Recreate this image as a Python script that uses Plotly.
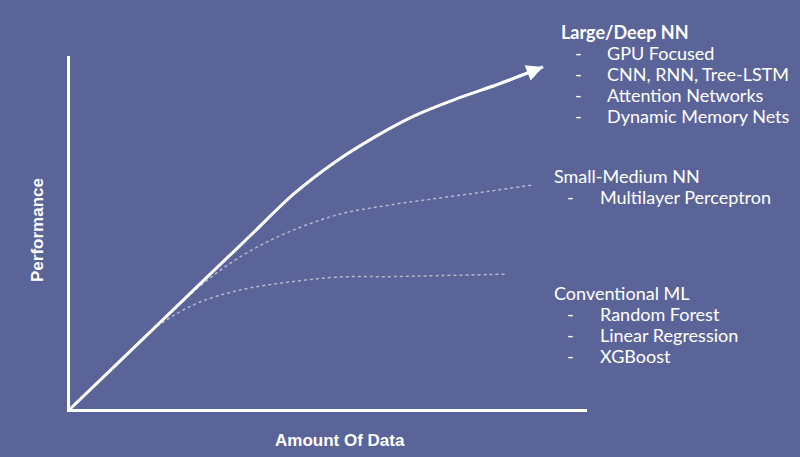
from plotly import graph_objects as go

# Curva principal (Large/Deep NN) - amount of data vs performance
deep_x = [0, 8.7, 17.4, 26.1, 34.8, 43.5, 51.3, 59.0, 66.7, 74.5, 83.2]
deep_y = [0, 12.2, 24.5, 36.8, 49.0, 61.2, 70.0, 77.1, 83.1, 87.7, 92.2]
deep_tip = (91.5, 96.9)

# Small-Medium NN (pontilhado)
small_x = [0, 8.7, 17.4, 25.1, 32.9, 41.6, 52.2, 61.9, 71.6, 80.7, 89.6]
small_y = [0, 12.2, 24.4, 34.8, 43.1, 49.7, 55.2, 57.8, 59.8, 61.6, 63.5]

# Conventional ML (pontilhado)
conv_x = [0, 8.7, 16.4, 24.2, 32.9, 42.6, 52.2, 61.9, 71.6, 84.5]
conv_y = [0, 12.2, 22.9, 29.7, 33.7, 36.0, 37.4, 37.5, 37.8, 38.2]

grupos = [
    ("Large/Deep NN", True, ["GPU Focused", "CNN, RNN, Tree-LSTM",
                             "Attention Networks", "Dynamic Memory Nets"]),
    ("Small-Medium NN", False, ["Multilayer Perceptron"]),
    ("Conventional ML", False, ["Random Forest", "Linear Regression", "XGBoost"]),
]

W, H = 800, 457
ML, MR, MT, MB = 70, 213, 56, 48
BG = "#5b6498"


def px(x):
    return (x - ML) / (W - ML - MR)


def py(y):
    return (H - MB - y) / (H - MT - MB)


fig = go.Figure()

linha_pont = dict(color="rgba(255,255,255,0.55)", width=1.5, dash="dot",
                  shape="spline", smoothing=1.0)
fig.add_trace(go.Scatter(x=conv_x, y=conv_y, mode="lines", line=linha_pont))
fig.add_trace(go.Scatter(x=small_x, y=small_y, mode="lines", line=linha_pont))
fig.add_trace(
    go.Scatter(
        x=deep_x + [deep_tip[0]],
        y=deep_y + [deep_tip[1]],
        mode="lines",
        line=dict(color="white", width=3, shape="spline", smoothing=1.0),
    )
)

anotacoes = [
    dict(
        x=deep_tip[0], y=deep_tip[1], ax=deep_x[-1], ay=deep_y[-1],
        xref="x", yref="y", axref="x", ayref="y",
        showarrow=True, arrowhead=2, arrowsize=1.1, arrowwidth=3,
        arrowcolor="white", text="",
    ),
    dict(
        x=px(37), y=py(230), xref="paper", yref="paper", text="<b>Performance</b>",
        showarrow=False, textangle=-90, xanchor="center", yanchor="middle",
        font=dict(family="Liberation Sans", size=17, color="white"),
    ),
    dict(
        x=px(340), y=py(440), xref="paper", yref="paper", text="<b>Amount Of Data</b>",
        showarrow=False, xanchor="center", yanchor="middle",
        font=dict(family="Liberation Sans", size=17, color="white"),
    ),
]

fonte = dict(family="Lato", size=18, color="white")
posicoes = [(559, 32, 578, 605), (552, 176, 570, 598), (552, 293, 570, 598)]
for (titulo, negrito, itens), (tx, ty, dx, ix) in zip(grupos, posicoes):
    anotacoes.append(
        dict(
            x=px(tx), y=py(ty), xref="paper", yref="paper",
            text=f"<b>{titulo}</b>" if negrito else titulo,
            showarrow=False, xanchor="left", yanchor="middle", font=fonte,
        )
    )
    for i, item in enumerate(itens):
        yy = ty + 21 * (i + 1)
        anotacoes.append(
            dict(x=px(dx), y=py(yy), xref="paper", yref="paper", text="-",
                 showarrow=False, xanchor="center", yanchor="middle", font=fonte)
        )
        anotacoes.append(
            dict(x=px(ix), y=py(yy), xref="paper", yref="paper", text=item,
                 showarrow=False, xanchor="left", yanchor="middle", font=fonte)
        )

eixo = dict(
    range=[0, 100], showgrid=False, zeroline=False, showticklabels=False,
    ticks="", showline=True, linecolor="white", linewidth=3,
)

fig.update_layout(
    width=W,
    height=H,
    margin=dict(l=ML, r=MR, t=MT, b=MB),
    paper_bgcolor=BG,
    plot_bgcolor=BG,
    showlegend=False,
    xaxis=eixo,
    yaxis=eixo,
    annotations=anotacoes,
)

fig.write_html(
    "out.html",
    config={"displayModeBar": False},
    post_script="document.body.style.margin='0';",
)
